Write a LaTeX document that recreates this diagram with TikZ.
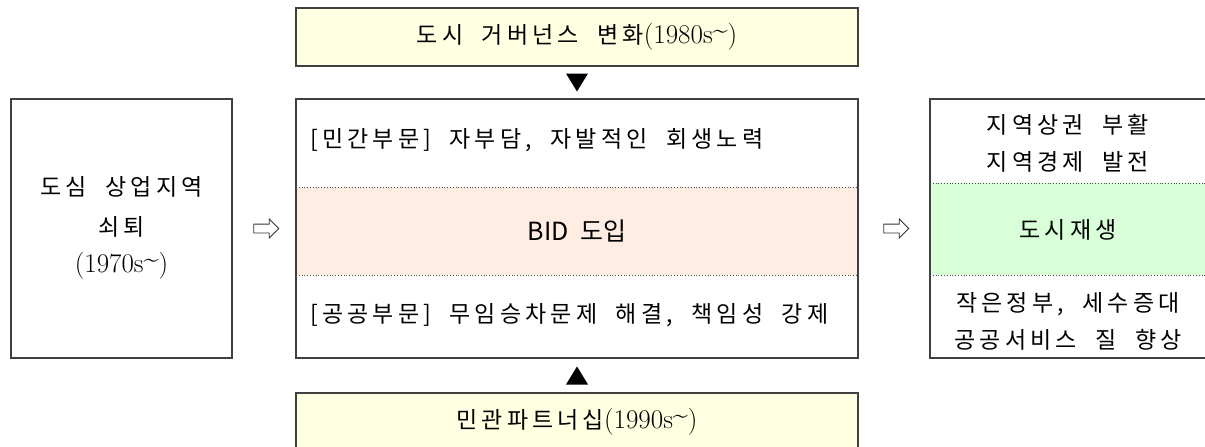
\documentclass[tikz,border=0pt]{standalone}
\usepackage{fontspec}
\newfontfamily\cjk[WordSpace=2.0,LetterSpace=18]{Noto Sans CJK KR}
\newfontfamily\cjkplain[WordSpace=2.0]{Noto Sans CJK KR}
\usetikzlibrary{shapes.arrows,calc}
\definecolor{ylw}{HTML}{FFFFE1}
\definecolor{pnk}{HTML}{FFEDE3}
\definecolor{grn}{HTML}{D9FFD9}
\definecolor{edge}{HTML}{404040}
\newcommand{\yr}[1]{{\rmfamily\fontsize{27}{30}\selectfont(#1s\raisebox{0.45ex}{\textasciitilde})}}
\begin{document}
\begin{tikzpicture}[x=1pt,y=-1pt,
  box/.style={draw=edge,line width=1.1pt,inner sep=0pt,outer sep=0pt},
  txt/.style={font=\cjk\fontsize{23}{37}\selectfont,inner sep=0pt,align=center,text=black},
  sep/.style={draw=black!70,dotted,line width=0.8pt},
  hollow/.style={single arrow,draw=black!80,line width=0.8pt,minimum height=25pt,minimum width=18pt,single arrow head extend=5pt,inner sep=4pt}]
\useasboundingbox (0,0) rectangle (1205,447);
\clip (0,0) rectangle (1205,447);
% bands
\fill[pnk] (296,187) rectangle (858,275);
\fill[grn] (930,183) rectangle (1215,275);
% boxes
\node[box,fill=ylw,minimum width=562pt,minimum height=58pt] (top) at (577,37) {};
\node[box,minimum width=562pt,minimum height=259pt] (mid) at (577,228.5) {};
\node[box,minimum width=221pt,minimum height=259pt] (left) at (121.5,228.5) {};
\node[box,minimum width=285pt,minimum height=259pt] (right) at (1072.5,228.5) {};
\node[box,fill=ylw,minimum width=562pt,minimum height=58pt] (bot) at (577,422) {};
% dotted separators
\draw[sep] (296,187) -- (858,187);
\draw[sep] (296,275) -- (858,275);
\draw[sep] (930,183) -- (1205,183);
\draw[sep] (930,275) -- (1205,275);
% texts
\node[txt] (ttop) at (top.center) {도시 거버넌스 변화\yr{1980}};
\node[txt] (tbot) at (bot.center) {민관파트너십\yr{1990}};
\node[txt,anchor=west] (tpriv) at (310,140) {[민간부문] 자부담, 자발적인 회생노력};
\node[txt,font=\cjkplain\fontsize{25}{30}\selectfont] (tbid) at (577,231) {BID 도입};
\node[txt,anchor=west] (tpub) at (310,315) {[공공부문] 무임승차문제 해결, 책임성 강제};
\node[txt] (tl1) at (121.5,187) {도심 상업지역};
\node[txt] (tl2) at (121.5,227) {쇠퇴};
\node[txt] (tl3) at (121.5,266) {\yr{1970}};
\node[txt] (tr1) at (1068,143) {지역상권 부활\\지역경제 발전};
\node[txt] (tr2) at (1068,230) {도시재생};
\node[txt] (tr3) at (1068,321) {작은정부, 세수증대\\공공서비스 질 향상};
% hollow arrows
\node[hollow] (a1) at ($(left.east)!0.5!(mid.west)$) {};
\node[hollow] (a2) at ($(mid.east)!0.5!(right.west)$) {};
% triangles
\path (top.south) -- (mid.north) coordinate[pos=0.5] (t1);
\path (mid.south) -- (bot.north) coordinate[pos=0.5] (t2);
\fill ([shift={(-11,-9)}]t1) -- ([shift={(11,-9)}]t1) -- ([shift={(0,9)}]t1) -- cycle;
\fill ([shift={(-11,9)}]t2) -- ([shift={(11,9)}]t2) -- ([shift={(0,-9)}]t2) -- cycle;
\end{tikzpicture}
\end{document}
